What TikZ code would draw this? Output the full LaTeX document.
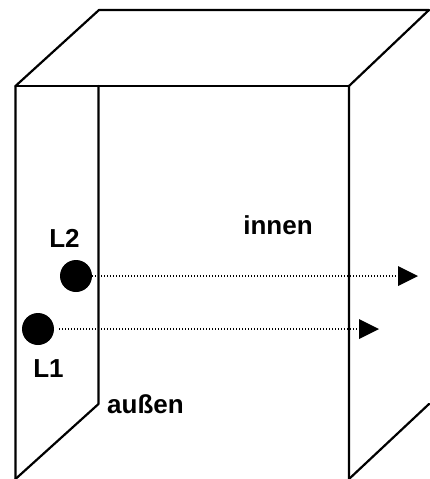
\documentclass[tikz,border=0pt]{standalone}
\usepackage{fontspec}
\setmainfont{Liberation Sans}
\usetikzlibrary{arrows.meta}
\tikzset{
  edge/.style={draw=black,line width=2.2pt,line join=round,line cap=round},
  light/.style={circle,fill=black,inner sep=0pt,minimum size=32pt},
  label/.style={inner sep=0pt,font=\fontsize{26pt}{30pt}\selectfont\bfseries},
  ray/.style={draw=black,line width=1.1pt,dash pattern=on 1.2pt off 1.8pt,line cap=butt},
  tip/.style={fill=black,draw=none}
}
\begin{document}
\begin{tikzpicture}[x=1pt,y=-1pt]
\useasboundingbox (0,0) rectangle (429,479);
\coordinate (ftl) at (15.5,86);
\coordinate (ftr) at (349,86);
\coordinate (btl) at (99,10);
\coordinate (btr) at (429,10);
\coordinate (fbl) at (15.5,479);
\coordinate (fbr) at (349,479);
\coordinate (ibt) at (98.5,86);
\coordinate (ibb) at (98.5,404);
\coordinate (rbb) at (429,404);
\draw[edge] (fbl) -- (ftl) -- (btl) -- (btr) -- (ftr) -- (fbr);
\draw[edge] (ftl) -- (ftr);
\draw[edge] (ibt) -- (ibb) -- (fbl);
\draw[edge] (fbr) -- (rbb);
\node[light] (L2) at (76,276) {};
\node[light] (L1) at (38,329) {};
\coordinate (t2) at (398,276);
\coordinate (t1) at (359,329);
\draw[ray] (L2.east) -- (t2);
\draw[ray] ([xshift=5pt]L1.east) -- (t1);
\fill[tip] (398,266) -- (418,276) -- (398,286) -- cycle;
\fill[tip] (359,319) -- (379,329) -- (359,339) -- cycle;
\node[label] (l2) at (64.5,238.5) {L2};
\node[label] (l1) at (48.5,369) {L1};
\node[label] (in) at (278,225) {innen};
\node[label] (au) at (145.5,404) {außen};
\end{tikzpicture}
\end{document}
